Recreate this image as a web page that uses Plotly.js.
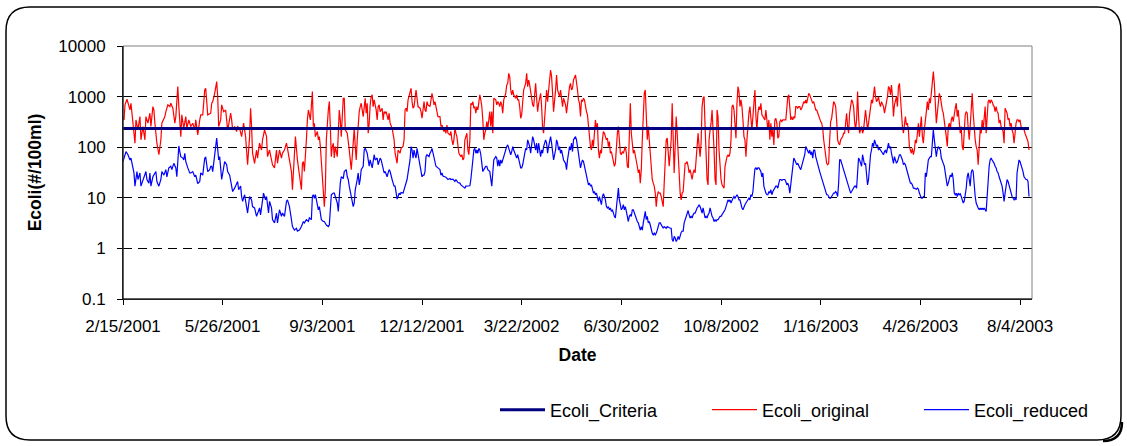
<!DOCTYPE html>
<html>
<head>
<meta charset="utf-8">
<script src="https://cdn.plot.ly/plotly-3.0.1.min.js"></script>
<style>
  html, body { margin: 0; padding: 0; background: #ffffff; }
  #chart { width: 1127px; height: 446px; }
</style>
</head>
<body>
<div id="chart"></div>
<script>
// ---------------- DATA ----------------
// Day offsets are counted from the first date of the record.
const startDate = '2001-02-15';
const axisEndDate = '2003-08-16';
const criteriaValue = 235;
const seriesNames = ['Ecoli_Criteria', 'Ecoli_original', 'Ecoli_reduced'];
const yTickValues = [0.1, 1, 10, 100, 1000, 10000];
const yTickLabels = ['0.1', '1', '10', '100', '1000', '10000'];

// [day offset, E. coli (#/100ml)]
const ecoliOriginal = [
[0,403],[1,346],[2,685],[4,885],[7,545],[8,740],[10,298],[12,120],[13,346],[15,220],
[17,403],[18,140],[20,256],[22,140],[23,403],[25,298],[27,470],[28,256],[30,635],[31,545],
[32,298],[34,120],[36,71],[38,140],[39,298],[42,403],[43,505],[45,685],[47,635],[48,740],
[50,590],[52,298],[53,403],[55,1575],[56,635],[58,162],[59,435],[61,237],[63,403],[64,237],
[66,346],[68,256],[70,298],[72,220],[73,346],[75,175],[77,346],[78,435],[80,435],[82,1350],
[83,1460],[85,435],[88,470],
[89,740],[90,795],[92,1160],[94,1980],[95,1000],[96,256],[98,346],[99,685],[101,505],[103,545],
[104,346],[105,220],[106,275],[108,470],[109,346],[110,220],[112,256],[114,204],[115,256],[117,237],
[119,162],[120,256],[121,298],[123,162],[124,82],[125,45],[127,162],[128,590],[129,256],[130,76],
[132,48],[134,88],[135,61],[137,120],[139,88],[140,140],[142,220],[144,162],[145,65],[147,88],
[149,56],[150,45],[152,39],[154,88],[155,48],[157,88],[159,61],[160,76],[162,88],[164,120],
[165,95],[167,56],[169,33],[170,14.4],[171,31],[172,56],[173,162],[175,56],[176,42],[178,23],
[179,14.4],[180,48],
[181,52],[182,33],[183,103],[184,140],[185,346],[186,545],[188,346],[189,740],[190,1255],[191,256],
[192,298],[193,162],[195,204],[196,140],[197,162],[198,103],[199,56],[200,23],[201,12.4],[202,6.7],
[203,14.4],[204,140],[206,545],[207,795],[208,256],[209,65],[210,103],[211,120],[212,61],[213,103],
[215,65],[216,189],[217,545],[218,346],[219,162],[220,403],[221,927],[222,927],[223,220],[225,189],
[226,140],[227,88],[228,56],[229,36],[230,65],[231,140],[232,237],[233,103],[234,56],[235,140],
[236,298],[237,505],[238,635],[239,740],[241,403],[242,635],[243,927],[244,470],[245,740],[246,189],
[247,298],[248,685],[249,1000],[250,1080],[251,635],[252,860],[254,545],[255,346],[256,635],[257,685],
[258,505],[260,590],[261,346],[262,505],[263,470],[264,505],[266,346],[267,470],[268,298],[270,237],
[271,175],[272,140],
[273,76],[274,56],[275,48],[276,88],[278,76],[279,95],[281,103],[282,140],[283,545],[284,590],
[285,505],[286,860],[288,1350],[289,1460],[290,795],[291,590],[292,635],[293,1160],[294,1350],[295,927],
[296,635],[298,590],[299,505],[300,373],[301,635],[302,795],[303,545],[304,505],[305,795],[306,685],
[308,635],[309,927],[310,1160],[311,927],[312,685],[313,795],[314,635],[315,505],[316,403],[318,403],
[319,256],[320,275],[321,237],[322,204],[323,220],[324,189],[325,275],[326,189],[328,175],[329,204],
[330,140],[331,111],[332,140],[333,237],[334,189],[335,162],[337,76],[338,71],[339,65],[340,71],
[341,56],[342,61],[343,140],[344,162],[345,189],[346,88],[347,71],[348,140],[349,740],[350,685],
[351,795],[352,590],[353,635],[354,470],[355,635],[356,545],[357,795],[358,1080],[359,860],[360,635],
[361,346],[362,140],[363,189],[364,220],
[365,321],[366,237],[367,346],[368,505],[369,256],[370,505],[371,189],[372,927],[374,860],[375,685],
[376,795],[377,740],[378,635],[379,795],[380,685],[381,470],[382,860],[384,1160],[385,1700],[386,1830],
[387,2880],[388,2480],[389,1350],[390,1080],[391,1350],[392,1080],[394,927],[395,1080],[396,860],[397,860],
[398,635],[399,373],[400,435],[401,740],[402,1350],[404,1830],[405,2880],[406,1575],[407,2130],[408,1700],
[409,1160],[410,927],[411,685],[412,635],[413,1350],[414,1830],[415,927],[416,505],[417,740],[419,1160],
[420,635],[421,237],[422,189],[423,403],[424,860],[425,1350],[426,795],[427,1160],[428,2130],[429,3360],
[430,2480],[431,1160],[432,505],[434,1350],[435,2680],[436,1350],[437,1080],[438,1000],[439,1350],[440,795],
[441,635],[442,927],[444,685],[445,470],[446,740],[447,1000],[448,1575],[449,1830],[450,1350],[451,1460],
[452,2130],[454,2680],[455,1575],[456,1350],[457,860],
[458,740],[459,403],[460,860],[461,795],[462,927],[463,860],[464,635],[465,505],[466,435],[467,275],
[468,140],[469,103],[470,88],[471,140],[472,103],[473,162],[474,346],[475,220],[476,298],[477,88],
[478,61],[479,88],[480,76],[481,140],[482,204],[483,189],[484,162],[485,140],[486,151],[487,103],
[488,129],[489,76],[490,82],[491,65],[492,48],[493,42],[494,48],[495,140],[496,189],[497,256],
[498,162],[499,76],[500,71],[501,82],[502,76],[503,88],[504,103],[505,76],[506,42],[507,39],
[508,140],[509,740],[510,189],[511,103],[512,76],[513,88],[514,71],[515,52],[516,42],[517,31],
[518,36],[519,19.5],[520,36],[521,140],[522,403],[523,1160],[524,1350],[525,256],[526,140],[527,256],
[528,140],[529,120],[530,56],[531,23],[532,19.5],[533,17],[534,12.4],[535,6.7],[536,10.6],[537,13.3],
[538,12.4],[539,12.4],[540,10.6],[541,7.9],[542,6.7],[543,19.5],[544,76],[545,140],[546,151],[547,88],
[548,42],[549,76],[550,140],[551,740],[552,88],[553,31],[554,103],[555,403],[556,189],[557,65],
[558,23],[559,12.4],[560,9.1],[561,12.4],[562,13.3],[563,31],[564,48],[565,48],[566,52],[567,42],
[568,31],[569,36],[570,26],[571,23],[572,31],[573,36],[574,31],[575,56],[576,76],[577,189],
[578,103],[579,65],[580,120],[581,635],[582,927],[583,1000],[584,256],[585,42],[586,23],[587,18],
[588,140],[589,220],[590,298],[591,545],[592,256],[593,88],[594,23],[595,18],[596,545],[597,403],
[598,88],[599,42],[600,23],[601,18],[602,17],[603,15.5],[604,42],[605,56],[606,65],[607,71],
[608,65],[609,76],[610,140],[611,635],[612,685],[613,545],[614,220],[615,151],[616,740],[617,1575],
[618,1255],[619,635],[620,860],[621,635],[622,346],[623,162],[624,140],[625,65],[626,140],[627,346],
[628,470],[629,635],[630,346],[631,220],[632,403],[633,635],[634,1350],[635,403],[636,220],[637,470],
[638,635],[639,545],[640,740],[641,435],[642,403],
[643,373],[644,346],[645,545],[646,298],[647,220],[648,346],[649,140],[650,298],[651,162],[652,220],
[653,111],[654,346],[655,373],[656,298],[657,151],[658,162],[659,321],[660,346],[661,321],[662,346],
[663,346],[664,346],[665,346],[666,590],[667,1000],[668,1080],[669,545],[670,346],[671,403],[672,346],
[673,403],[674,373],[675,635],[676,635],[677,590],[678,635],[679,635],[680,545],[681,590],[682,740],
[683,795],[684,740],[685,860],[686,740],[687,927],[688,1160],[689,1080],[690,927],[691,860],[692,740],
[693,795],[694,685],[695,545],[696,545],[697,470],[698,435],[699,373],[700,321],[701,298],[702,237],
[703,140],[704,88],[705,65],[706,48],[707,45],[708,48],[709,140],[710,321],[711,373],[712,685],
[713,795],[714,740],[715,635],[716,346],[717,140],[718,120],[719,111],[720,140],[721,151],[722,162],
[723,189],[724,189],[725,298],[726,470],[727,256],[728,189],[729,470],[730,685],[731,860],[732,795],
[733,635],[734,321],
[735,220],[736,346],[737,1255],[738,403],[739,189],[740,220],[741,256],[742,189],[743,220],[744,346],
[745,545],[746,346],[747,220],[748,298],[749,403],[750,635],[751,860],[752,740],[753,1000],[754,1575],
[755,1000],[756,795],[757,860],[758,1000],[759,740],[760,635],[761,795],[762,685],[763,635],[764,470],
[765,590],[766,795],[767,1000],[768,1575],[769,1460],[770,1080],[771,1700],[772,1000],[773,403],[774,685],
[775,927],[776,1000],[777,635],[778,1575],[779,1830],[780,860],[781,346],[782,256],[783,189],[784,346],
[785,403],[786,275],[787,298],[788,220],[789,103],[790,88],[791,76],[792,95],[793,71],[794,88],
[795,140],[796,120],[797,189],[798,298],[799,162],[800,237],[801,403],[802,162],[803,120],[804,220],
[805,298],[806,505],[807,795],[808,545],[809,927],[810,740],[811,1160],[812,2130],[813,3110],[814,1830],
[815,635],[816,298],[817,470],[818,740],[819,1160],[820,1000],[821,635],[822,545],[823,470],[824,346],
[825,256],[826,162],
[827,103],[828,256],[829,298],[830,220],[831,346],[832,403],[833,321],[834,470],[835,590],[836,740],
[837,403],[838,545],[839,298],[840,189],[841,256],[842,103],[843,88],[844,220],[845,435],[846,505],
[847,470],[848,237],[849,140],[850,256],[851,470],[852,1160],[853,470],[854,237],[855,140],[856,103],
[857,88],[858,45],[859,88],[860,220],[861,189],[862,346],[863,220],[864,403],[865,635],[866,189],
[867,346],[868,795],[869,860],[870,740],[871,860],[872,795],[873,685],[874,635],[875,505],[876,635],
[877,505],[878,470],[879,298],[880,346],[881,256],[882,237],[883,204],[884,120],[885,590],[886,505],
[887,470],[888,346],[889,373],[890,256],[891,298],[892,220],[893,189],[894,120],[895,220],[896,298],
[897,346],[898,346],[899,321],[900,346],[901,256],[902,237],[903,237],[904,220],[905,189],[906,162],
[907,140],[908,129],[909,88]
];

const ecoliReduced = [
[0,52],[2,76],[3,82],[5,71],[7,56],[8,61],[10,42],[11,31],[12,17],[14,33],
[15,23],[17,31],[18,17],[20,23],[22,31],[23,33],[24,23],[26,19.5],[27,31],[28,17],
[30,26],[32,31],[33,33],[34,21],[36,17],[38,23],[39,33],[41,28],[43,36],[44,26],
[46,39],[48,42],[49,36],[51,48],[53,39],[54,26],[56,106],[57,82],[58,65],[60,61],
[61,56],[62,76],[63,52],[65,39],[67,31],[68,31],[70,33],[72,26],[73,28],[75,19],
[77,21],[78,31],[80,28],[82,61],[83,63],[85,33],[87,36],[88,42],
[89,42],[90,33],[92,65],[94,151],[96,56],[97,65],[99,23],[100,31],[101,39],[102,52],
[104,45],[105,33],[107,28],[109,17],[110,13.3],[112,15.5],[114,19.5],[115,21],[116,14.4],[118,17],
[119,10.6],[120,8.5],[122,11.5],[124,7.3],[125,5.0],[127,10.6],[129,9.1],[130,6.7],[132,6.3],[134,4.3],
[135,5.0],[137,6.3],[138,4.6],[140,7.9],[141,12.4],[143,9.1],[144,10.6],[146,5.0],[147,8.5],[149,6.3],
[150,3.7],[152,3.2],[154,5.0],[155,3.2],[157,5.8],[159,4.3],[160,5.0],[162,4.3],[164,8.5],[165,9.1],
[167,6.7],[169,3.7],[170,2.7],[172,2.3],[174,2.5],[175,2.2],[177,2.3],[179,2.7],[180,3.2],
[181,3.4],[182,3.2],[184,3.7],[186,3.4],[187,4.0],[189,3.7],[190,10.6],[191,11.5],[192,9.8],[193,11.5],
[195,7.9],[196,5.8],[197,6.7],[198,4.3],[199,3.7],[201,3.4],[202,3.4],[204,2.9],[206,2.7],[207,2.9],
[208,5.8],[209,11.5],[211,12.4],[212,12.4],[213,10.6],[215,7.9],[216,5.4],[217,14.4],[218,19.5],[219,26],
[221,24],[222,33],[224,36],[225,26],[226,23],[227,17],[229,10.6],[231,6.7],[232,7.9],[233,14.4],
[235,23],[236,31],[237,18],[238,23],[239,36],[241,42],[242,88],[243,95],[245,76],[246,52],
[247,42],[248,56],[249,48],[250,39],[251,52],[252,71],[253,56],[255,61],[256,45],[257,56],
[258,61],[259,56],[260,45],[261,39],[262,31],[263,33],[265,26],[266,31],[267,36],[268,33],
[269,26],[270,23],[271,19.5],[272,17],
[273,17],[274,10.6],[275,9.4],[276,10.6],[277,12.4],[278,11.5],[279,12.7],[281,12.4],[283,17],[284,18],
[285,23],[286,31],[288,56],[289,103],[290,88],[291,61],[292,88],[293,71],[294,61],[295,95],
[296,71],[298,42],[299,31],[300,26],[301,28],[302,28],[303,33],[304,65],[305,71],[307,65],
[308,76],[309,82],[310,95],[311,76],[312,61],[313,45],[314,42],[316,39],[318,36],[319,28],
[320,31],[321,27],[323,26],[324,25.6],[326,23],[328,24],[329,23],[331,23.4],[333,21],[334,23],
[336,20],[338,19.5],[339,18],[341,17],[343,15.5],[344,17],[346,17],[348,17.3],[349,23],[350,42],
[351,56],[352,88],[353,95],[354,76],[355,88],[356,76],[357,95],[358,88],[359,71],[360,48],
[361,33],[363,39],[364,42],
[365,42],[366,36],[368,33],[369,21],[370,17],[371,31],[372,56],[374,65],[375,61],[376,42],
[377,56],[378,42],[379,56],[380,48],[381,56],[382,71],[384,88],[385,103],[386,111],[387,95],
[388,88],[389,71],[390,82],[391,103],[392,88],[394,65],[395,61],[396,71],[397,61],[398,48],
[399,39],[400,39],[401,45],[402,61],[404,95],[405,88],[406,140],[407,120],[408,103],[409,76],
[410,103],[411,162],[412,140],[414,88],[415,120],[416,76],[417,120],[418,88],[419,65],[420,88],
[421,76],[422,103],[424,140],[425,120],[426,76],[427,103],[428,140],[429,162],[430,120],[431,76],
[432,56],[434,88],[435,140],[436,120],[437,88],[438,103],[439,76],[440,88],[441,71],[442,56],
[444,48],[445,36],[446,56],[447,71],[448,103],[449,88],[450,120],[451,82],[452,140],[454,162],
[455,140],[456,103],[457,76],[458,48],[459,39],[460,48],[461,56],[462,52],[463,42],[464,33],
[465,26],[466,23],[467,18],[468,19.5],[469,17],[470,18],[471,15.5],[472,12.4],[473,13.3],[474,11.5],
[475,12.4],[476,9.8],[477,8.5],[478,10.6],[479,9.1],[480,7.3],[481,10.6],[482,12],[483,10.6],[484,9.1],
[485,6.7],[486,6.3],[487,6.7],[488,5.8],[489,6.3],[490,5.4],[491,5.8],[492,4.6],[493,4.3],[494,4.0],
[495,6.7],[496,10.6],[497,15.5],[498,9.1],[499,6.7],[500,5.8],[501,6.3],[502,7.3],[503,5.8],[504,6.7],
[505,5.4],[506,4.3],[507,3.4],[508,4.3],[509,4.6],[510,4.3],[511,5.8],[512,5.8],[513,5.0],[514,4.6],
[515,3.7],[516,3.4],[517,3.2],[518,2.7],[519,2.3],[520,2.7],[521,2.3],[522,3.2],[523,4.0],[524,5.4],
[525,3.7],[526,4.3],[527,3.2],[528,3.4],[529,2.9],[530,2.3],[531,2.0],[532,1.86],[533,2.0],[534,1.86],
[535,2.0],[536,2.3],[537,2.7],[538,3.2],[539,3.2],[540,2.9],[541,2.7],[542,2.5],[543,2.7],[544,2.6],
[545,2.5],[546,2.7],
[547,2.6],[549,2.5],[550,2.5],[551,1.5],[552,1.37],[553,1.73],[554,1.6],[555,1.37],[556,1.5],[557,1.73],
[558,1.5],[559,1.86],[560,2.07],[561,2.2],[562,2.2],[563,3.2],[564,3.7],[565,4.3],[566,5.0],[567,5.6],
[568,4.6],[569,4.0],[570,4.3],[571,4.0],[572,4.6],[573,5.0],[574,5.0],[575,5.8],[576,6.3],[577,6.7],
[578,7.3],[579,6.7],[580,5.8],[581,5.0],[582,6.3],[583,4.6],[584,4.0],[585,4.3],[586,4.0],[587,4.6],
[588,5.0],[589,6.3],[590,5.0],[591,4.3],[592,4.0],[593,3.4],[594,3.7],[595,3.4],[596,3.7],[597,3.7],
[598,4.0],[599,4.3],[600,4.3],[601,4.6],[602,5.0],[603,5.4],[604,5.8],[605,6.7],[606,8.5],[607,9.1],
[608,8.5],[609,9.1],[610,7.9],[611,9.1],[612,9.8],[613,10.6],[614,9.8],[615,10.6],[616,11.5],[617,10.6],
[618,9.1],[619,9.1],[620,7.3],[621,6.3],[622,5.8],[623,6.7],[624,7.3],[625,7.9],[626,8.5],[627,9.1],
[628,9.8],[629,9.1],[630,11.5],[631,10.6],[632,13.3],[633,23],[634,37],[635,39],[636,36],[637,39],
[638,39],[639,36],[640,33],[641,26],[642,31],
[643,17],[644,13.3],[645,12.4],[646,11.5],[647,11.5],[648,13.3],[649,12.4],[650,14.4],[651,11.5],[652,13.3],
[653,14.4],[654,15.5],[655,17],[656,17],[657,15.5],[658,19.5],[659,23],[660,23],[661,22],[662,23],
[663,23],[664,23],[665,21],[666,18],[667,19.5],[668,17],[669,12.4],[670,19.5],[671,31],[672,39],
[673,61],[674,56],[675,48],[676,45],[677,48],[678,42],[679,39],[680,36],[681,42],[682,48],
[683,61],[684,71],[685,103],[686,95],[687,88],[688,76],[689,88],[690,71],[691,82],[692,61],
[693,88],[694,88],[695,65],[696,52],[697,45],[698,39],[699,33],[700,28],[701,23],[702,19.5],
[703,17],[704,14.4],[705,13.3],[706,11.5],[707,11.5],[708,10.6],[709,9.8],[710,9.8],[711,10.6],[712,11.5],
[713,12.4],[714,12.4],[715,13.3],[716,12.4],[717,10.6],[718,19.5],[719,56],[720,56],[721,48],[722,39],
[723,33],[724,31],[725,26],[726,23],[727,19.5],[728,17],[729,13.3],[730,12.4],[731,13.3],[732,14.4],
[733,15.5],[734,17],
[735,17],[736,15.5],[737,31],[738,61],[739,56],[740,45],[741,42],[742,71],[743,56],[744,45],
[745,48],[746,31],[747,18],[748,23],[749,42],[750,71],[751,88],[752,120],[753,103],[754,140],
[755,120],[756,103],[757,111],[758,88],[759,95],[760,88],[761,82],[762,76],[763,71],[764,82],
[765,88],[766,76],[767,103],[768,120],[769,95],[770,103],[771,76],[772,56],[773,48],[774,65],
[775,56],[776,48],[777,52],[778,61],[779,71],[780,71],[781,65],[782,56],[783,45],[784,48],
[785,45],[786,39],[787,33],[788,28],[789,23],[790,19.5],[791,19.5],[792,18],[793,15.5],[794,15.5],
[795,14.8],[796,14.8],[797,15.5],[798,14.8],[799,12.4],[800,10.6],[801,9.8],[802,9.8],[803,10.6],[804,10.6],
[805,31],[806,26],[807,42],[808,56],[809,61],[810,65],[811,65],[812,103],[813,220],[814,140],
[815,76],[816,65],[817,88],[818,103],[819,95],[820,88],[821,61],[822,56],[823,48],[824,42],
[825,33],[826,23],
[827,17],[828,19.5],[829,23],[830,28],[831,26],[832,31],[833,23],[834,12.4],[835,11.5],[836,12.4],
[837,10.6],[838,12.4],[839,11.5],[840,12],[841,10.6],[842,9.1],[843,7.9],[844,8.5],[845,10.6],[846,15.5],
[847,26],[848,31],[849,23],[850,17],[851,31],[852,36],[853,33],[854,17],[855,10.6],[856,7.9],
[857,6.7],[858,6.3],[859,5.8],[860,6.3],[861,5.8],[862,6.3],[863,5.8],[864,6.3],[865,5.8],[866,5.4],
[867,10.6],[868,23],[869,42],[870,56],[871,61],[872,56],[873,52],[874,48],[875,42],[876,39],
[877,33],[878,31],[879,26],[880,23],[881,19.5],[882,17],[883,12.4],[884,8.5],[885,12.4],[886,19.5],
[887,23],[888,21],[889,17],[890,14.4],[891,12.4],[892,10.6],[893,9.8],[894,9.1],[895,9.8],[896,9.1],
[897,31],[898,48],[899,56],[900,52],[901,45],[902,39],[903,33],[904,26],[905,24],[906,23],
[907,23],[908,21],[909,10.6]
];

// ---------------- HELPERS ----------------
const DAY_MS = 86400000;
const startMs = Date.parse(startDate + 'T00:00:00Z');
const toDate = d => new Date(startMs + d * DAY_MS).toISOString().slice(0, 10);

const origX = ecoliOriginal.map(p => toDate(p[0]));
const origY = ecoliOriginal.map(p => p[1]);
const redX = ecoliReduced.map(p => toDate(p[0]));
const redY = ecoliReduced.map(p => p[1]);
const lastDay = Math.max(ecoliOriginal[ecoliOriginal.length - 1][0], ecoliReduced[ecoliReduced.length - 1][0]);
const critX = [startDate, toDate(lastDay)];
const critY = [criteriaValue, criteriaValue];

// ---------------- LAYOUT GEOMETRY ----------------
const W = 1127, H = 446;
const M = { l: 123, r: 95, t: 46, b: 147, autoexpand: false };
const PW = W - M.l - M.r, PH = H - M.t - M.b;
const px = x => (x - M.l) / PW;
const py = y => (H - M.b - y) / PH;

// rounded chart-area frame
const fx0 = 6, fy0 = 7, fx1 = 1121, fy1 = 440, rad = 24;
const framePath =
  `M ${px(fx0 + rad)},${py(fy0)} L ${px(fx1 - rad)},${py(fy0)} ` +
  `Q ${px(fx1)},${py(fy0)} ${px(fx1)},${py(fy0 + rad)} ` +
  `L ${px(fx1)},${py(fy1 - rad)} Q ${px(fx1)},${py(fy1)} ${px(fx1 - rad)},${py(fy1)} ` +
  `L ${px(fx0 + rad)},${py(fy1)} Q ${px(fx0)},${py(fy1)} ${px(fx0)},${py(fy1 - rad)} ` +
  `L ${px(fx0)},${py(fy0 + rad)} Q ${px(fx0)},${py(fy0)} ${px(fx0 + rad)},${py(fy0)} Z`;
// thicker lower-right corner of the frame (slight drop shadow)
const shadowPath =
  `M ${px(fx1 + 1)},${py(fy1 - rad + 6)} Q ${px(fx1 + 1)},${py(fy1 + 1)} ${px(fx1 - rad + 6)},${py(fy1 + 1)}`;

const FONT = 'Liberation Sans, Arial, Helvetica, sans-serif';

const traces = [
  {
    x: origX, y: origY, name: seriesNames[1], type: 'scatter', mode: 'lines',
    line: { color: '#FF0000', width: 1.2 }, legendrank: 2
  },
  {
    x: redX, y: redY, name: seriesNames[2], type: 'scatter', mode: 'lines',
    line: { color: '#0000FF', width: 1.2 }, legendrank: 3
  },
  {
    x: critX, y: critY, name: seriesNames[0], type: 'scatter', mode: 'lines',
    line: { color: '#000080', width: 3 }, legendrank: 1
  }
];

const layout = {
  width: W, height: H,
  margin: M,
  paper_bgcolor: '#ffffff',
  plot_bgcolor: '#ffffff',
  font: { family: FONT, size: 17, color: '#000000' },
  showlegend: true,
  legend: {
    orientation: 'h',
    x: px(495), xanchor: 'left',
    y: py(410), yanchor: 'middle',
    font: { family: FONT, size: 18, color: '#000000' },
    bgcolor: 'rgba(0,0,0,0)',
    itemwidth: 45,
    entrywidth: 152, entrywidthmode: 'pixels',
    traceorder: 'normal'
  },
  xaxis: {
    type: 'date',
    range: [startDate, axisEndDate],
    tick0: startDate,
    dtick: 100 * DAY_MS,
    tickformat: '%-m/%-d/%Y',
    ticks: 'outside', ticklen: 5, tickcolor: '#000', tickwidth: 1,
    ticklabelstandoff: 7,
    showline: true, linecolor: '#000', linewidth: 1,
    showgrid: false, zeroline: false,
    tickfont: { family: FONT, size: 17, color: '#000' },
    title: { text: 'Date', font: { family: FONT, size: 17.5, color: '#000', weight: 700 }, standoff: 13 }
  },
  yaxis: {
    type: 'log',
    range: [-1, 4],
    tickvals: yTickValues,
    ticktext: yTickLabels,
    ticks: 'outside', ticklen: 5, tickcolor: '#000', tickwidth: 1,
    ticklabelstandoff: 8,
    showline: true, linecolor: '#000', linewidth: 1,
    showgrid: true, gridcolor: '#000000', gridwidth: 1, griddash: '9px,6px',
    zeroline: false,
    tickfont: { family: FONT, size: 17, color: '#000' },
    title: { text: 'Ecoli(#/100ml)', font: { family: FONT, size: 17.5, color: '#000', weight: 700 }, standoff: 12 }
  },
  shapes: [
    { type: 'rect', xref: 'paper', yref: 'paper', x0: 0, x1: 1, y0: 0, y1: 1,
      line: { color: '#808080', width: 1 }, layer: 'above' },
    { type: 'line', xref: 'paper', yref: 'paper', x0: 0, x1: 0, y0: 0, y1: 1,
      line: { color: '#000000', width: 1 }, layer: 'above' },
    { type: 'line', xref: 'paper', yref: 'paper', x0: 0, x1: 1, y0: 0, y1: 0,
      line: { color: '#000000', width: 1 }, layer: 'above' },
    { type: 'path', xref: 'paper', yref: 'paper', path: framePath,
      line: { color: '#000000', width: 1.5 }, layer: 'above' },
    { type: 'path', xref: 'paper', yref: 'paper', path: shadowPath,
      line: { color: '#000000', width: 2.5 }, layer: 'above' }
  ]
};

Plotly.newPlot('chart', traces, layout, { staticPlot: true, displayModeBar: false });
</script>
</body>
</html>
